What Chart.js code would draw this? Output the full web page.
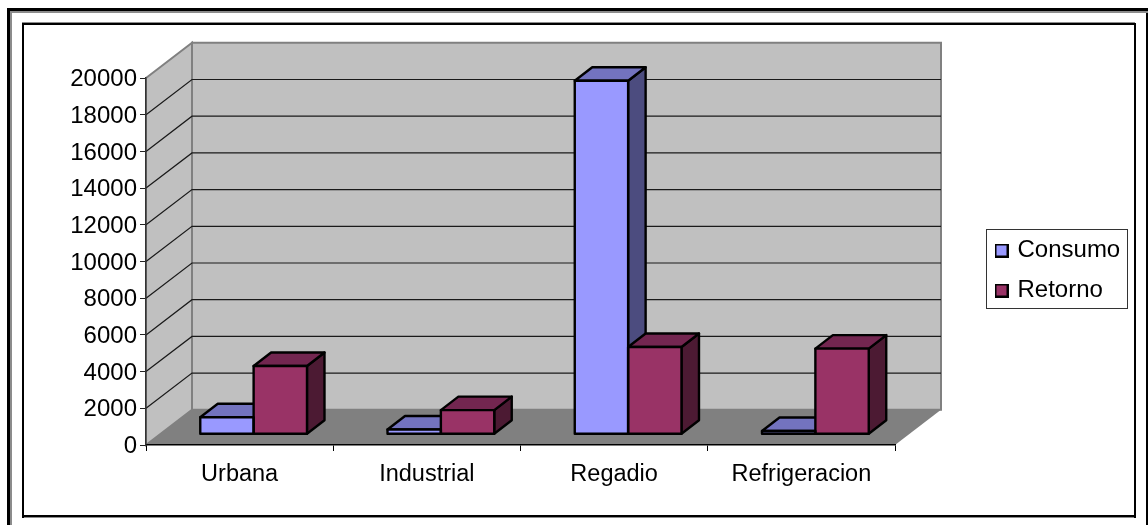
<!DOCTYPE html>
<html lang="es">
<head>
<meta charset="utf-8">
<title>Consumo y retorno de agua por uso</title>
<script src="https://cdn.jsdelivr.net/npm/chart.js@4/dist/chart.umd.min.js"></script>
<style>
  html, body { margin: 0; padding: 0; background: #fff; }
  canvas { display: block; }
</style>
</head>
<body>
<canvas id="chart" width="1148" height="525"></canvas>
<script>
// Values per water use
const categories = ['Urbana', 'Industrial', 'Regadio', 'Refrigeracion'];
const consumo = [930, 260, 19270, 180];
const retorno = [3720, 1320, 4760, 4670];

// Colours of each series: front, top and side faces
const consumoFaces = { front: '#9999FF', top: '#7373BF', side: '#4C4C7F' };
const retornoFaces = { front: '#993366', top: '#732650', side: '#4C1A33' };
const wallColor = '#C0C0C0';
const floorColor = '#808080';
const edgeColor = '#808080';

// Oblique projection of the 3D box
const wallDepth = { x: 46, y: -35.2 };   // front plane to back wall
const barInset = { x: 14, y: -10.7 };    // front plane to front of the bars
const barDepth = { x: 17.5, y: -13.5 };  // thickness of a bar
const barStroke = 2.4;

const family = '"Liberation Sans", Arial, sans-serif';
const categoryFont = { family, size: 23.5 };
const valueFont = { family, size: 24 };

function poly(ctx, pts, fill, stroke, width) {
  ctx.beginPath();
  pts.forEach((p, i) => (i ? ctx.lineTo(p[0], p[1]) : ctx.moveTo(p[0], p[1])));
  ctx.closePath();
  if (fill) { ctx.fillStyle = fill; ctx.fill(); }
  if (stroke) { ctx.strokeStyle = stroke; ctx.lineWidth = width; ctx.stroke(); }
}

function legendSwatch(color) {
  const c = document.createElement('canvas');
  c.width = 14; c.height = 14;
  const g = c.getContext('2d');
  g.fillStyle = '#000'; g.fillRect(0, 0, 14, 14);
  g.fillStyle = color; g.fillRect(2, 2, 10, 10);
  return c;
}

function barEdges(bar) {
  const p = bar.getProps(['x', 'y', 'base', 'width'], true);
  return { l: p.x - p.width / 2, r: p.x + p.width / 2, top: p.y, base: p.base };
}

// Page frame, chart box, walls, floor and the faces the bars cannot draw themselves
const boxPlugin = {
  id: 'box3d',
  afterLayout(chart) {
    const l = chart.legend;
    const w = l.width, h = l.height;
    l.left = 981.5; l.top = 222.5; l.right = l.left + w; l.bottom = l.top + h;
    // settle the value labels onto their tick marks
    chart.scales.y.getLabelItems().forEach(item => { item.textOffset += 1.5; });
  },
  beforeDraw(chart) {
    const { ctx } = chart;
    const xs = chart.scales.x, ys = chart.scales.y;
    const left = xs.left, right = xs.right;
    const y0 = ys.getPixelForValue(0), yMax = ys.getPixelForValue(ys.max);
    const d = wallDepth;
    ctx.save();

    // outer frame lines
    ctx.fillStyle = '#000';
    ctx.fillRect(7, 8, 1141, 3);
    ctx.fillRect(7, 8, 3, 517);
    ctx.fillRect(1146, 13, 2, 512);
    ctx.fillStyle = '#8c8c8c';
    ctx.fillRect(10, 11, 1138, 2);
    ctx.fillRect(10, 11, 2, 514);
    // chart box
    ctx.fillStyle = '#8c8c8c';
    ctx.fillRect(22, 22, 1113, 1);
    ctx.fillRect(23, 517, 1113, 1);
    ctx.fillStyle = '#000';
    ctx.fillRect(22, 23, 1114, 2);
    ctx.fillRect(22, 23, 2, 495);
    ctx.fillRect(1134, 23, 2, 495);
    ctx.fillRect(22, 515, 1114, 2);

    // back wall, side wall, floor
    poly(ctx, [[left + d.x, yMax + d.y], [right + d.x, yMax + d.y], [right + d.x, y0 + d.y], [left + d.x, y0 + d.y]], wallColor, edgeColor, 2);
    poly(ctx, [[left, yMax], [left + d.x, yMax + d.y], [left + d.x, y0 + d.y], [left, y0]], wallColor, edgeColor, 2);
    poly(ctx, [[left, y0], [left + d.x, y0 + d.y], [right + d.x, y0 + d.y], [right, y0]], floorColor);

    // gridlines, folded from the side wall onto the back wall
    ctx.strokeStyle = '#1a1a1a';
    ctx.lineWidth = 1.2;
    ys.ticks.forEach(t => {
      if (t.value === 0 || t.value === ys.max) return;
      const y = ys.getPixelForValue(t.value);
      ctx.beginPath();
      ctx.moveTo(left, y);
      ctx.lineTo(left + d.x, y + d.y);
      ctx.lineTo(right + d.x, y + d.y);
      ctx.stroke();
    });

    // legend box
    ctx.strokeStyle = '#333';
    ctx.lineWidth = 1;
    ctx.strokeRect(986.5, 229.5, 141, 79);
    ctx.restore();
  },
  // Side and top faces go down first, left series before right series;
  // the library then paints the front faces over them.
  beforeDatasetsDraw(chart) {
    const { ctx } = chart;
    ctx.save();
    ctx.translate(barInset.x, barInset.y);
    ctx.lineJoin = 'round';
    chart.data.datasets.forEach((ds, i) => {
      chart.getDatasetMeta(i).data.forEach(bar => {
        const { l, r, top, base } = barEdges(bar);
        const dx = barDepth.x, dy = barDepth.y;
        poly(ctx, [[r, top], [r + dx, top + dy], [r + dx, base + dy], [r, base]], ds.faces.side, '#000', barStroke);
        poly(ctx, [[l, top], [l + dx, top + dy], [r + dx, top + dy], [r, top]], ds.faces.top, '#000', barStroke);
      });
    });
    ctx.restore();
  },
  beforeDatasetDraw(chart) {
    chart.ctx.save();
    chart.ctx.translate(barInset.x, barInset.y);
  },
  afterDatasetDraw(chart) {
    chart.ctx.restore();
  },
  // Outlines of the front faces, centred on the value edges
  afterDatasetsDraw(chart) {
    const { ctx } = chart;
    ctx.save();
    ctx.translate(barInset.x, barInset.y);
    ctx.lineJoin = 'round';
    chart.data.datasets.forEach((ds, i) => {
      chart.getDatasetMeta(i).data.forEach(bar => {
        const { l, r, top, base } = barEdges(bar);
        poly(ctx, [[l, top], [r, top], [r, base], [l, base]], null, '#000', barStroke);
      });
    });
    ctx.restore();
  }
};

new Chart(document.getElementById('chart'), {
  type: 'bar',
  data: {
    labels: categories,
    datasets: [
      { label: 'Consumo', data: consumo, backgroundColor: consumoFaces.front, faces: consumoFaces },
      { label: 'Retorno', data: retorno, backgroundColor: retornoFaces.front, faces: retornoFaces }
    ]
  },
  options: {
    responsive: false,
    animation: false,
    layout: { padding: { top: 78, right: 253, bottom: 0, left: 0 } },
    datasets: { bar: { categoryPercentage: 0.57, barPercentage: 1, borderWidth: 0, clip: false } },
    scales: {
      x: {
        grid: { display: true, drawOnChartArea: false, drawTicks: true, tickLength: 6, color: '#000', offset: true },
        border: { display: true, color: '#000', width: 1.5 },
        ticks: { color: '#000', font: categoryFont, padding: 9, autoSkip: false, maxRotation: 0 },
        afterFit(scale) { scale.height = 80; }
      },
      y: {
        min: 0,
        max: 20000,
        grid: { display: true, drawOnChartArea: false, drawTicks: true, tickLength: 6, color: '#222' },
        border: { display: true, color: '#333', width: 1.5 },
        ticks: { stepSize: 2000, color: '#000', font: valueFont, padding: 3, autoSkip: false, callback: v => String(v) },
        afterFit(scale) { scale.width = 146; }
      }
    },
    plugins: {
      title: { display: false },
      tooltip: { enabled: false },
      legend: {
        position: 'chartArea',
        align: 'start',
        labels: {
          color: '#000',
          font: valueFont,
          padding: 16,
          usePointStyle: true,
          pointStyleWidth: 8,
          generateLabels(chart) {
            return chart.data.datasets.map((d, i) => ({
              text: d.label,
              datasetIndex: i,
              hidden: false,
              fontColor: '#000',
              pointStyle: legendSwatch(d.backgroundColor)
            }));
          }
        }
      }
    }
  },
  plugins: [boxPlugin]
});
</script>
</body>
</html>
